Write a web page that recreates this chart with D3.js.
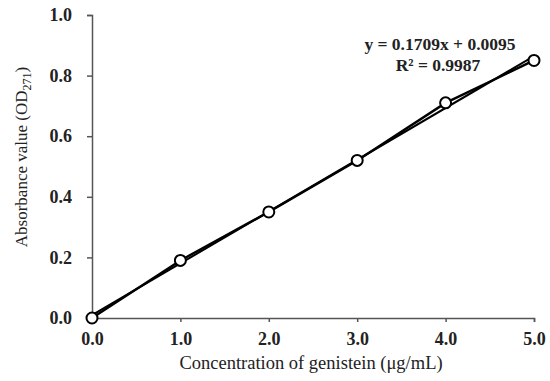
<!DOCTYPE html>
<html><head><meta charset="utf-8">
<script src="https://cdn.jsdelivr.net/npm/d3@7"></script>
<style>body{margin:0;background:#fff}svg{display:block}</style>
</head><body>
<svg id="c" width="550" height="381"></svg>
<script>
const concentrations = [0, 1, 2, 3, 4, 5];
const absorbance = [0.0, 0.19, 0.35, 0.52, 0.71, 0.85];
const xTicks = [0, 1, 2, 3, 4, 5];
const yTicks = [0, 0.2, 0.4, 0.6, 0.8, 1.0];
const slope = 0.1709, intercept = 0.0095;

const svg = d3.select("#c");
const x = d3.scaleLinear().domain([0, 5]).range([92, 534]);
const y = d3.scaleLinear().domain([0, 1]).range([318, 15]);
const font = "'Liberation Serif','Times New Roman',serif";
const axisColor = "#555";

const gx = svg.append("g").attr("transform", "translate(0,318)")
  .call(d3.axisBottom(x).tickValues(xTicks).tickFormat(d3.format(".1f")).tickSizeOuter(0).tickSize(4));
const gy = svg.append("g").attr("transform", "translate(92,0)")
  .call(d3.axisLeft(y).tickValues(yTicks).tickFormat(d3.format(".1f")).tickSizeOuter(0).tickSize(5));
[gx, gy].forEach(g => {
  g.select(".domain").attr("stroke", axisColor).attr("stroke-width", 1.5);
  g.selectAll(".tick line").attr("stroke", axisColor).attr("stroke-width", 1.5);
  g.selectAll(".tick text").attr("font-family", font).attr("font-size", 18)
    .attr("font-weight", "bold").attr("fill", "#222");
});
gx.selectAll(".tick text").attr("y", 27).attr("dy", 0);
gy.selectAll(".tick text").attr("x", -20);

// trendline
svg.append("line")
  .attr("x1", x(0)).attr("y1", y(intercept))
  .attr("x2", x(5)).attr("y2", y(slope * 5 + intercept))
  .attr("stroke", "#000").attr("stroke-width", 2);

// data line
const pts = concentrations.map((c, i) => [c, absorbance[i]]);
svg.append("path").datum(pts)
  .attr("d", d3.line().x(d => x(d[0])).y(d => y(d[1])))
  .attr("fill", "none").attr("stroke", "#000").attr("stroke-width", 2.4);

svg.selectAll("circle.pt").data(pts).enter().append("circle")
  .attr("cx", d => x(d[0])).attr("cy", d => y(d[1])).attr("r", 5.5)
  .attr("fill", "#fff").attr("stroke", "#000").attr("stroke-width", 2);

// equation
svg.append("text").attr("x", 440).attr("y", 50).attr("text-anchor", "middle")
  .attr("font-family", font).attr("font-size", 17.5).attr("font-weight", "bold").attr("fill", "#222")
  .text("y = 0.1709x + 0.0095");
svg.append("text").attr("x", 438).attr("y", 71).attr("text-anchor", "middle")
  .attr("font-family", font).attr("font-size", 17.5).attr("font-weight", "bold").attr("fill", "#222")
  .text("R² = 0.9987");

// axis titles
svg.append("text").attr("x", 311).attr("y", 369).attr("text-anchor", "middle")
  .attr("font-family", font).attr("font-size", 18.5).attr("fill", "#222")
  .text("Concentration of genistein (μg/mL)");
const yt = svg.append("text").attr("transform", "translate(27,157) rotate(-90)")
  .attr("text-anchor", "middle").attr("font-family", font).attr("font-size", 17).attr("fill", "#222");
yt.append("tspan").text("Absorbance value (OD");
yt.append("tspan").attr("font-size", 12).attr("dy", 4).text("271");
yt.append("tspan").attr("dy", -4).text(")");
</script>
</body></html>
